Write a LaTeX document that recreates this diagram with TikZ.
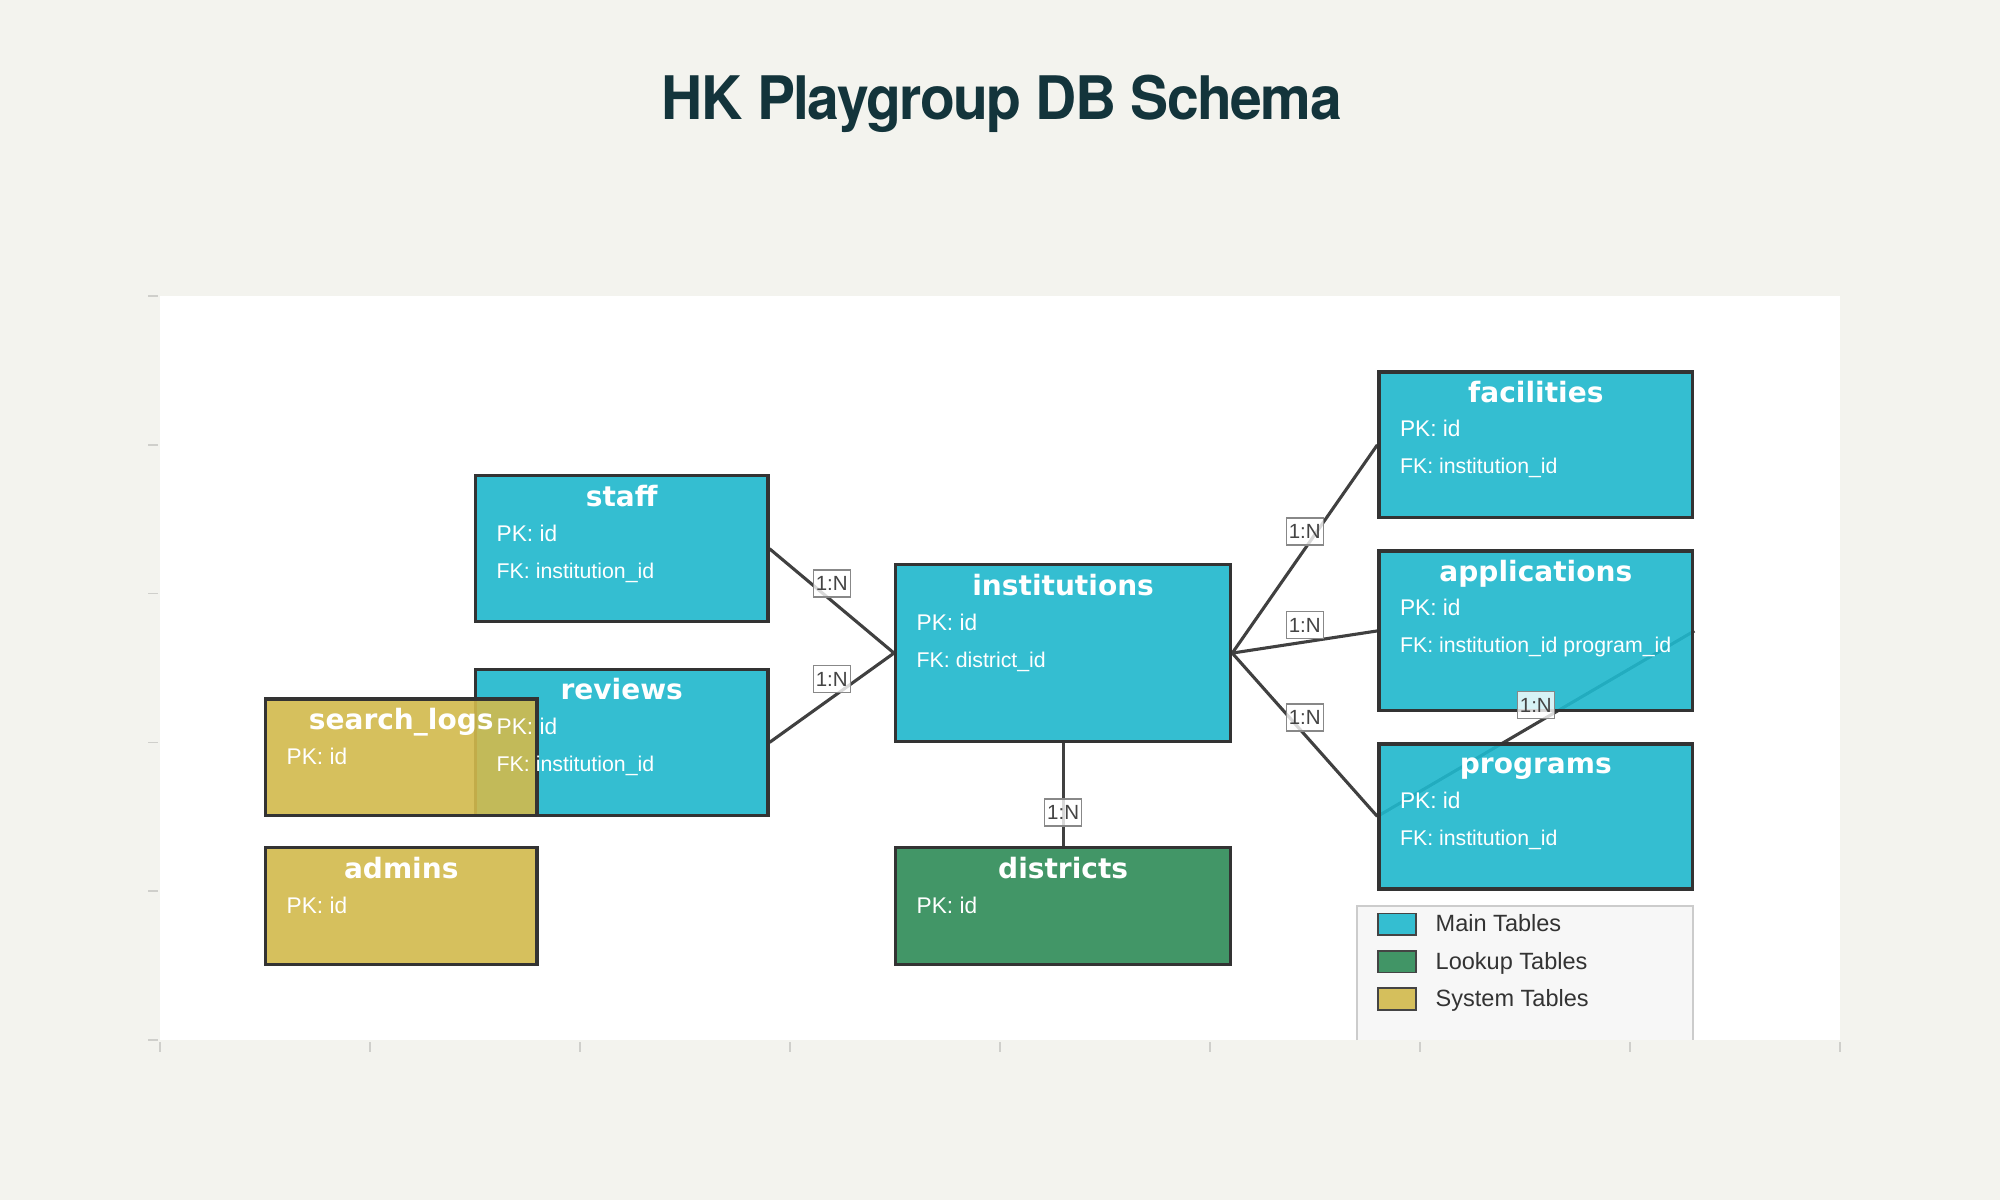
\documentclass[tikz,border=0pt]{standalone}
\usepackage{fontspec}
\setmainfont{Liberation Sans}
\newfontfamily\headfont[FakeStretch=0.95,LetterSpace=-2.6]{TeX Gyre Heros}
\newfontfamily\tabfont{DejaVu Sans}
\usetikzlibrary{calc}
\definecolor{pagebg}{HTML}{F3F3EE}
\definecolor{maincol}{HTML}{1FB8CD}
\definecolor{lookcol}{HTML}{2E8B57}
\definecolor{syscol}{HTML}{D2BA4C}
\definecolor{edgecol}{HTML}{333333}
\definecolor{linkcol}{HTML}{404040}
\definecolor{titlecol}{HTML}{13343B}
\definecolor{lblborder}{HTML}{888888}
\definecolor{lbltext}{HTML}{444444}
\definecolor{legbg}{HTML}{F7F7F7}
\definecolor{legline}{HTML}{CCCCCC}
\definecolor{legtextcol}{HTML}{333333}
\definecolor{swatchedge}{HTML}{444444}
\definecolor{tickcol}{HTML}{CFCFCB}
\pgfdeclarelayer{back}
\pgfdeclarelayer{links}
\pgfdeclarelayer{front}
\pgfsetlayers{back,links,main,front}
\begin{document}
\begin{tikzpicture}[x=0.01cm,y=-0.01cm,
  tbl/.style={rectangle, draw=edgecol, line width=0.95pt, fill opacity=0.9, anchor=north west, inner sep=0pt},
  maintbl/.style={tbl, fill=maincol},
  looktbl/.style={tbl, fill=lookcol},
  systbl/.style={tbl, fill=syscol},
  tname/.style={anchor=base, inner sep=0pt, text=white, font=\tabfont\bfseries\fontsize{7.97}{9}\selectfont},
  pkf/.style={anchor=base west, inner sep=0pt, text=white, font=\fontsize{6.45}{7.5}\selectfont},
  fkf/.style={anchor=base west, inner sep=0pt, text=white, font=\fontsize{6.06}{7}\selectfont},
  link/.style={draw=linkcol, line width=0.88pt},
  lbl/.style={rectangle, draw=lblborder, line width=0.4pt, fill=white, fill opacity=0.8, text opacity=1, text=lbltext, font=\fontsize{5.83}{7}\selectfont, minimum width=0.37cm, minimum height=0.27cm, inner sep=0pt},
  swatch/.style={rectangle, anchor=north west, draw=swatchedge, line width=0.45pt, fill opacity=0.9, minimum width=0.377cm, minimum height=0.216cm, inner sep=0pt},
  legtext/.style={anchor=base west, inner sep=0pt, text=legtextcol, font=\fontsize{6.69}{8}\selectfont},
  tick/.style={draw=tickcol, line width=0.5pt}
]
\useasboundingbox (0,0) rectangle (2000,1200);
\begin{pgfonlayer}{back}
  \fill[pagebg] (0,0) rectangle (2000,1200);
  \fill[white] (160,296) rectangle (1840,1040);
  \foreach \ty in {296,444.8,593.6,742.4,891.2,1040} \draw[tick] (148.3,\ty) -- (158.3,\ty);
  \foreach \i in {0,...,8} \draw[tick] (160+210*\i,1042) -- (160+210*\i,1052);
\end{pgfonlayer}

\node[anchor=base, inner sep=0pt, text=titlecol, font=\headfont\bfseries\fontsize{17.07}{20}\selectfont] (title) at (1001.8,119) {HK Playgroup DB Schema};

% tables
\node[maintbl, minimum width=2.92cm, minimum height=1.46cm] (staff) at (474,474) {};
\node[maintbl, minimum width=2.92cm, minimum height=1.46cm] (reviews) at (474,667.7) {};
\node[systbl, minimum width=2.71cm, minimum height=1.164cm] (slogs) at (264,697.3) {};
\node[systbl, minimum width=2.71cm, minimum height=1.167cm] (admins) at (264,846) {};
\node[maintbl, minimum width=3.347cm, minimum height=1.767cm] (inst) at (894,563) {};
\node[looktbl, minimum width=3.347cm, minimum height=1.167cm] (dist) at (894,846) {};
\node[maintbl, minimum width=3.135cm, minimum height=1.457cm] (fac) at (1377.3,370.3) {};
\node[maintbl, minimum width=3.135cm, minimum height=1.596cm] (app) at (1377.3,549.4) {};
\node[maintbl, minimum width=3.135cm, minimum height=1.45cm] (prog) at (1377.3,742.2) {};

% connectors
\begin{pgfonlayer}{links}
  \draw[link] (staff.east) -- (inst.west);
  \draw[link] (reviews.east) -- (inst.west);
  \draw[link] (inst.east) -- (fac.west);
  \draw[link] (inst.east) -- (app.west);
  \draw[link] (inst.east) -- (prog.west);
  \draw[link] (inst.south) -- (dist.north);
  \draw[link] (prog.west) -- (app.east);
\end{pgfonlayer}

% legend
\fill[legbg] (1356.7,905.7) rectangle (1693.3,1040);
\draw[legline, line width=0.5pt] (1356.7,1040) -- (1356.7,905.7) -- (1693.3,905.7) -- (1693.3,1040);
\node[swatch, fill=maincol] (sw1) at (1377.3,912.7) {};
\node[swatch, fill=lookcol] (sw2) at (1377.3,950) {};
\node[swatch, fill=syscol] (sw3) at (1377.3,987.3) {};
\node[legtext] (lg1) at (1435,931.7) {Main Tables};
\node[legtext] (lg2) at (1435,969) {Lookup Tables};
\node[legtext] (lg3) at (1435,1006) {System Tables};

\begin{pgfonlayer}{front}
  % table texts
  \node[tname] (staff-t) at ($(staff.north)+(0,32)$) {staff};
  \node[pkf] (staff-pk) at ($(staff.north west)+(22,67)$) {PK: id};
  \node[fkf] (staff-fk) at ($(staff.north west)+(22,104)$) {FK: institution\_id};

  \node[tname] (reviews-t) at ($(reviews.north)+(0,32)$) {reviews};
  \node[pkf] (reviews-pk) at ($(reviews.north west)+(22,67)$) {PK: id};
  \node[fkf] (reviews-fk) at ($(reviews.north west)+(22,104)$) {FK: institution\_id};

  \node[tname] (slogs-t) at ($(slogs.north)+(0,32)$) {search\_logs};
  \node[pkf] (slogs-pk) at ($(slogs.north west)+(22,67)$) {PK: id};

  \node[tname] (admins-t) at ($(admins.north)+(0,32)$) {admins};
  \node[pkf] (admins-pk) at ($(admins.north west)+(22,67)$) {PK: id};

  \node[tname] (inst-t) at ($(inst.north)+(0,32)$) {institutions};
  \node[pkf] (inst-pk) at ($(inst.north west)+(22,67)$) {PK: id};
  \node[fkf] (inst-fk) at ($(inst.north west)+(22,104)$) {FK: district\_id};

  \node[tname] (dist-t) at ($(dist.north)+(0,32)$) {districts};
  \node[pkf] (dist-pk) at ($(dist.north west)+(22,67)$) {PK: id};

  \node[tname] (fac-t) at ($(fac.north)+(0,32)$) {facilities};
  \node[pkf] (fac-pk) at ($(fac.north west)+(22,66)$) {PK: id};
  \node[fkf] (fac-fk) at ($(fac.north west)+(22,103)$) {FK: institution\_id};

  \node[tname] (app-t) at ($(app.north)+(0,32)$) {applications};
  \node[pkf] (app-pk) at ($(app.north west)+(22,66)$) {PK: id};
  \node[fkf] (app-fk) at ($(app.north west)+(22,103)$) {FK: institution\_id program\_id};

  \node[tname] (prog-t) at ($(prog.north)+(0,31)$) {programs};
  \node[pkf] (prog-pk) at ($(prog.north west)+(22,66)$) {PK: id};
  \node[fkf] (prog-fk) at ($(prog.north west)+(22,103)$) {FK: institution\_id};

  % relationship labels
  \node[lbl] (l-staff) at ($(staff.east)!0.5!(inst.west)+(0,-17.5)$) {1:N};
  \node[lbl] (l-reviews) at ($(reviews.east)!0.5!(inst.west)+(0,-18.5)$) {1:N};
  \node[lbl] (l-fac) at ($(inst.east)!0.5!(fac.west)+(0,-17.5)$) {1:N};
  \node[lbl] (l-app) at ($(inst.east)!0.5!(app.west)+(0,-17)$) {1:N};
  \node[lbl] (l-prog) at ($(inst.east)!0.5!(prog.west)+(0,-17.4)$) {1:N};
  \node[lbl] (l-dist) at ($(inst.south)!0.5!(dist.north)+(0,18)$) {1:N};
  \node[lbl] (l-progapp) at ($(prog.west)!0.5!(app.east)+(0,-18.5)$) {1:N};
\end{pgfonlayer}
\end{tikzpicture}
\end{document}
